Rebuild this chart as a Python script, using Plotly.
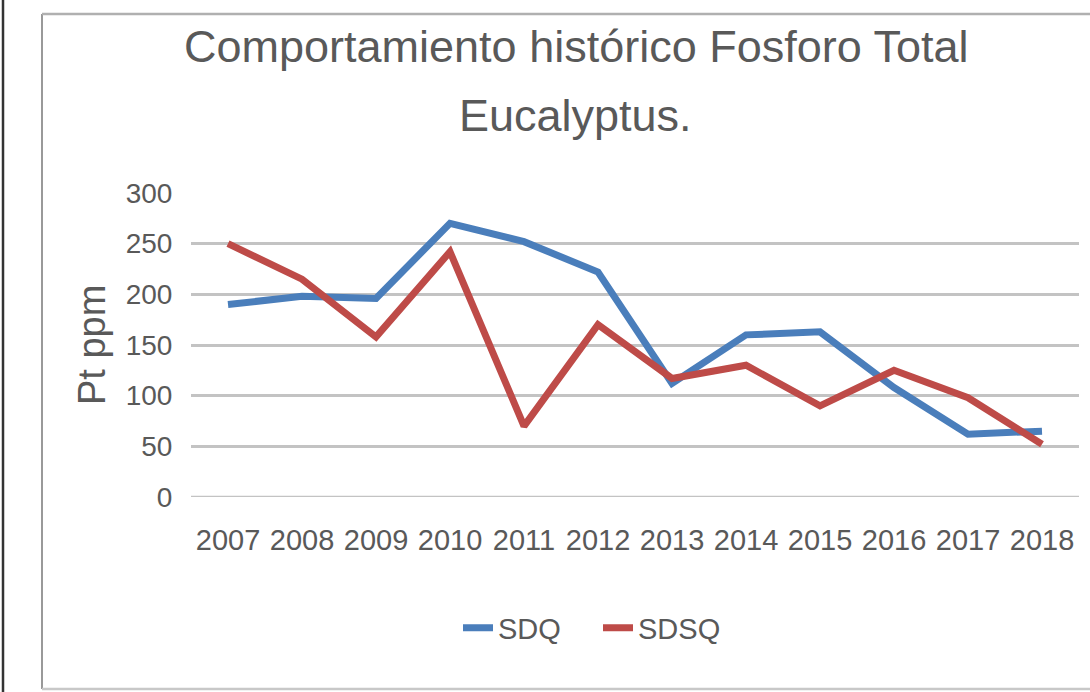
import plotly.graph_objects as go

years = ["2007", "2008", "2009", "2010", "2011", "2012", "2013", "2014", "2015", "2016", "2017", "2018"]
sdq = [190, 198, 196, 270, 252, 222, 112, 160, 163, 108, 62, 65]
sdsq = [250, 215, 158, 242, 70, 170, 117, 130, 90, 125, 98, 52]
y_ticks = [0, 50, 100, 150, 200, 250, 300]

FONT = "Liberation Sans, Arial, sans-serif"
TXT = "#595959"

W, H = 1090, 692
L, R = 191, 1079
T, B = 193, 497

def px(x):
    return (x - L) / (R - L)

def py(y):
    return (B - y) / (B - T)

fig = go.Figure()
fig.add_trace(go.Scatter(x=years, y=sdq, mode="lines", name="SDQ",
                         line=dict(color="#4a7ebb", width=7)))
fig.add_trace(go.Scatter(x=years, y=sdsq, mode="lines", name="SDSQ",
                         line=dict(color="#be4b48", width=7)))

fig.update_layout(
    width=W, height=H,
    margin=dict(l=L, r=W - R, t=T, b=H - B, pad=0, autoexpand=False),
    paper_bgcolor="white", plot_bgcolor="white",
    showlegend=True,
    legend=dict(orientation="h", x=px(598), xanchor="center", y=py(628), yanchor="middle",
                font=dict(family=FONT, size=29, color=TXT), itemwidth=30,
                entrywidth=95, entrywidthmode="pixels",
                bgcolor="rgba(0,0,0,0)"),
    xaxis=dict(type="category", range=[-0.5, 11.5], showgrid=False, zeroline=False,
               showline=False, ticks="outside", ticklen=17, tickcolor="rgba(0,0,0,0)",
               tickangle=0, automargin=False,
               tickfont=dict(family=FONT, size=29, color=TXT), fixedrange=True),
    yaxis=dict(range=[0, 300], tickvals=y_ticks, showgrid=True, gridcolor="#c3c3c3",
               gridwidth=2.5, zeroline=False, showline=False, ticks="outside",
               ticklen=12, tickcolor="rgba(0,0,0,0)", automargin=False,
               tickfont=dict(family=FONT, size=28, color=TXT), fixedrange=True),
)

# bottom gridline at 0
fig.add_shape(type="line", xref="paper", yref="y", x0=0, x1=1, y0=0, y1=0,
              line=dict(color="#c3c3c3", width=2.5), layer="below")

fig.add_annotation(text="Comportamiento histórico Fosforo Total",
                   xref="paper", yref="paper", x=px(576), y=py(47), xanchor="center",
                   yanchor="middle", showarrow=False,
                   font=dict(family=FONT, size=45, color=TXT))
fig.add_annotation(text="Eucalyptus.",
                   xref="paper", yref="paper", x=px(575), y=py(115), xanchor="center",
                   yanchor="middle", showarrow=False,
                   font=dict(family=FONT, size=45, color=TXT))
fig.add_annotation(text="Pt ppm", xref="paper", yref="paper", x=px(92), y=py(345),
                   xanchor="center", yanchor="middle", textangle=-90, showarrow=False,
                   font=dict(family=FONT, size=38, color=TXT))

# frames
fig.add_shape(type="line", xref="paper", yref="paper", x0=px(3), x1=px(3), y0=py(0), y1=py(692),
              line=dict(color="#333333", width=2.5))
fig.add_shape(type="line", xref="paper", yref="paper", x0=px(42), x1=px(42), y0=py(14), y1=py(689),
              line=dict(color="#999999", width=2))
fig.add_shape(type="line", xref="paper", yref="paper", x0=px(42), x1=px(1092), y0=py(14), y1=py(14),
              line=dict(color="#b0b0b0", width=2.5))
fig.add_shape(type="line", xref="paper", yref="paper", x0=px(42), x1=px(1092), y0=py(689), y1=py(689),
              line=dict(color="#c8c8c8", width=2.5))

fig.write_html("out.html", config={"displayModeBar": False},
               post_script="document.body.style.margin='0';document.body.style.overflow='hidden';")
